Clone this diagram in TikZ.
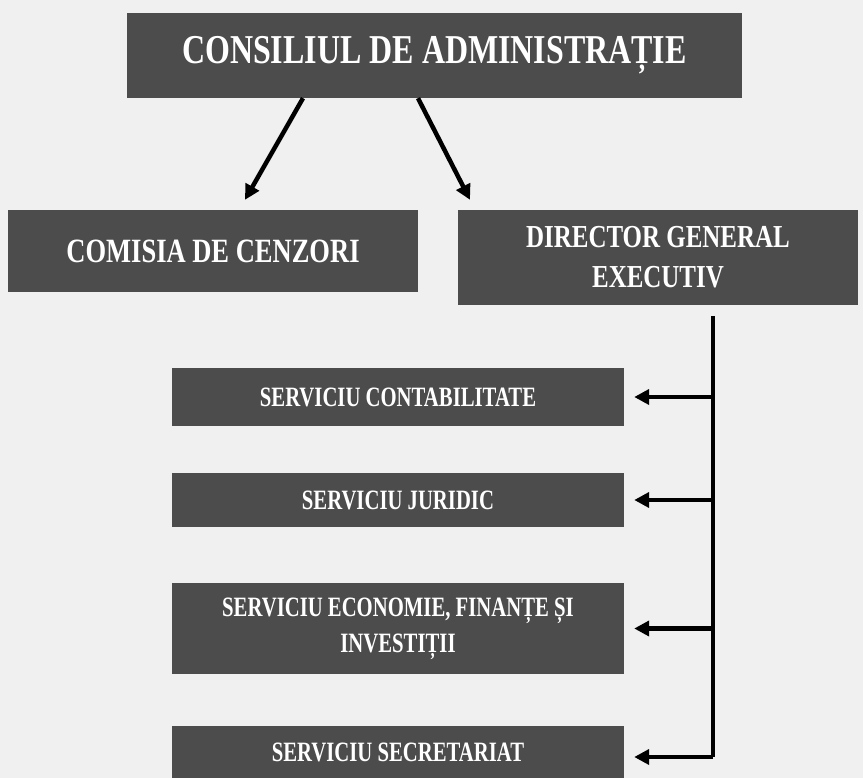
\documentclass[tikz,border=0pt]{standalone}
\usepackage{fontspec}
\setmainfont{Liberation Serif}
\newfontfamily\boxfont[FakeStretch=0.78]{Liberation Serif}
\newfontfamily\servfont[FakeStretch=0.74]{Liberation Serif}
\usetikzlibrary{arrows.meta}

\begin{document}
\begin{tikzpicture}[x=1pt,y=1pt]
\tikzstyle{every node}+=[inner sep=0pt]
\tikzstyle{orgbox}=[fill=black!70, text=white, align=center]
\tikzstyle{link}=[black, line width=4.5pt, -{Triangle[length=15pt,width=15pt]}]
\useasboundingbox (0,0) rectangle (863,-778);
\fill [black!6] (0,0) rectangle (863,-778);
% top level
\node [orgbox, minimum width=615, minimum height=85, font=\boxfont\bfseries\fontsize{41}{44}\selectfont] (consiliu) at (434.5,-55.5) {CONSILIUL DE ADMINISTRAȚIE};
\node [orgbox, minimum width=410, minimum height=82, font=\boxfont\bfseries\fontsize{34}{36}\selectfont] (comisia) at (213,-251) {COMISIA DE CENZORI};
\node [orgbox, minimum width=400, minimum height=95, font=\boxfont\bfseries\fontsize{32}{40}\selectfont] (director) at (658,-257.5) {DIRECTOR GENERAL\\EXECUTIV};
\draw [link] ([xshift=-131.5]consiliu.south) -- ([xshift=32,yshift=10]comisia.north);
\draw [link] ([xshift=-16.5]consiliu.south) -- ([xshift=-188,yshift=10]director.north);
% services
\tikzstyle{service}=[orgbox, minimum width=452, font=\servfont\bfseries\fontsize{28}{36}\selectfont]
\node [service, minimum height=58] (contab) at (398,-397) {SERVICIU CONTABILITATE};
\node [service, minimum height=54] (juridic) at (398,-500) {SERVICIU JURIDIC};
\node [service, minimum height=91] (economie) at (398,-628.5) {SERVICIU ECONOMIE, FINANȚE ȘI\\INVESTIȚII};
\node [service, minimum height=52] (secretariat) at (398,-752) {SERVICIU SECRETARIAT};
\coordinate (trunk) at (713,-316);
\coordinate (trunkend) at (713,-757);
\draw [black, line width=4.5pt] (trunk) -- (trunkend);
\draw [link, shorten >=10] (trunk |- contab.east) -- (contab.east);
\draw [link, shorten >=10] (trunk |- juridic.east) -- (juridic.east);
\draw [link, shorten >=10] (trunk |- economie.east) -- (economie.east);
\draw [link, shorten >=10] (trunkend) -- (trunkend -| secretariat.east);
\end{tikzpicture}
\end{document}
